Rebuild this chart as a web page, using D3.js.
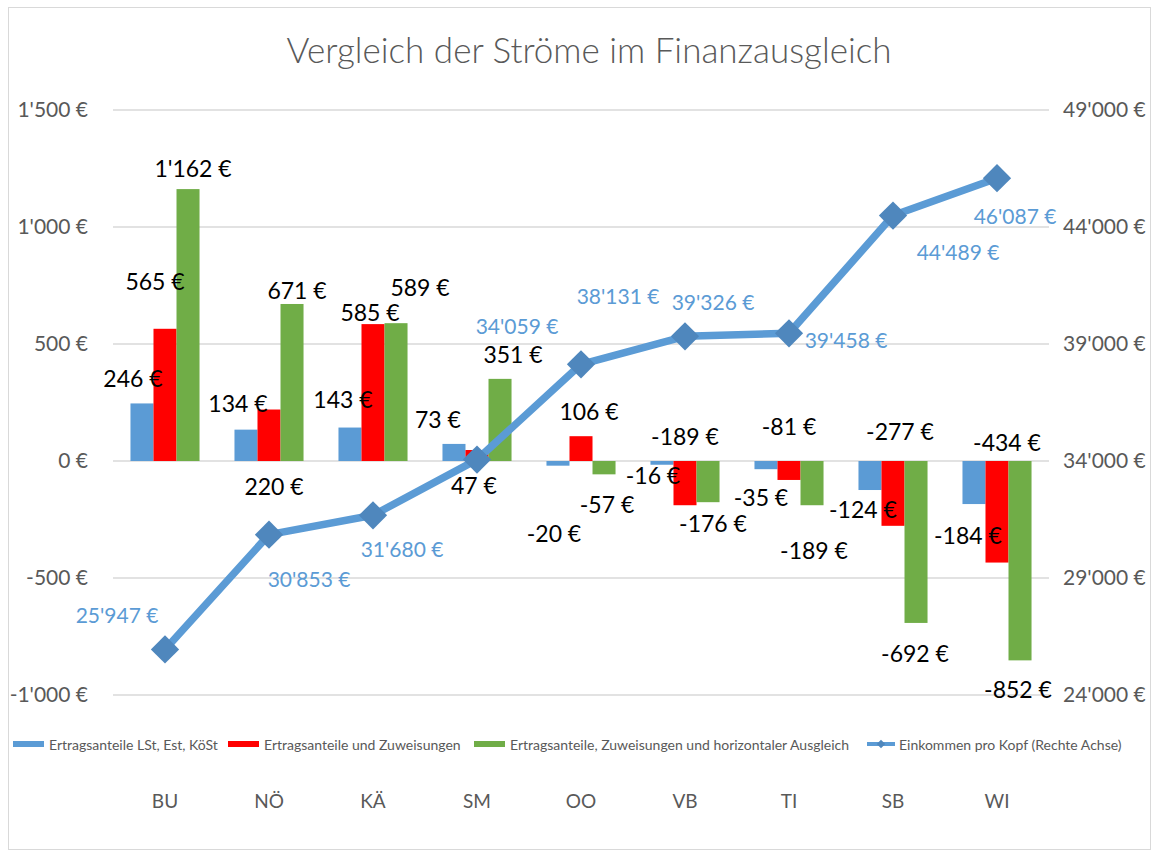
<!DOCTYPE html>
<html>
<head>
<meta charset="utf-8">
<script src="https://cdn.jsdelivr.net/npm/d3@7"></script>
<style>
  body { margin: 0; background: #fff; }
  text { font-family: Lato, "Open Sans", sans-serif; }
</style>
</head>
<body>
<div id="chart"></div>
<script>
// data
const categories = ["BU", "NÖ", "KÄ", "SM", "OO", "VB", "TI", "SB", "WI"];
const seriesNames = [
    "Ertragsanteile LSt, Est, KöSt",
    "Ertragsanteile und Zuweisungen",
    "Ertragsanteile, Zuweisungen und horizontaler Ausgleich"
];
const ertragsanteile = [246, 134, 143, 73, -20, -16, -35, -124, -184];
const zuweisungen = [565, 220, 585, 47, 106, -189, -81, -277, -434];
const horizontal = [1162, 671, 589, 351, -57, -176, -189, -692, -852];
const lineName = "Einkommen pro Kopf (Rechte Achse)";
const einkommen = [25947, 30853, 31680, 34059, 38131, 39326, 39458, 44489, 46087];
const leftTicks = [-1000, -500, 0, 500, 1000, 1500];
const rightTicks = [24000, 29000, 34000, 39000, 44000, 49000];

// label nudges (px, relative to the bar end / marker) - Excel labels were moved by hand
const barLabelNudge = [
    [[-9, -25], [-8, -27], [-7, -29], [-16, -25], [-4, 67], [-9, 10], [-5, 28], [-7, 19], [-6, 31]],
    [[-10, -48], [5, 76], [-3, -12], [-3, 35], [8, -25], [0, -69], [0, -54], [7, -95], [10, -121]],
    [[5, -21], [5, -14], [24, -36], [13, -25], [3, 30], [5, 21], [2, 45], [-1, 30], [-2, 29]]
];
const lineLabelNudge = [[-48, -35], [40, 44], [29, 33], [40, -134], [37, -69], [28, -35], [57, 6], [65, 36], [18, 37]];

const colours = ["#5b9bd5", "#ff0000", "#70ad47"];
const lineColour = "#5b9bd5";
const markerColour = "#4f87bd";

const width = 1159, height = 850;
const plot = {left: 113, right: 1049, top: 110, bottom: 695};

const svg = d3.select("#chart")
    .append("svg")
    .attr("width", width)
    .attr("height", height);

// chart frame
svg.append("rect")
    .attr("x", 8.5).attr("y", 7.5)
    .attr("width", 1142).attr("height", 842)
    .attr("fill", "#fff")
    .attr("stroke", "#d9d9d9");

// scales
const x = d3.scaleBand()
    .domain(categories)
    .range([plot.left, plot.right])
    .paddingInner(0.336)
    .paddingOuter(0.168);

const xSub = d3.scaleBand()
    .domain([0, 1, 2])
    .range([0, x.bandwidth()]);

const y = d3.scaleLinear()
    .domain([-1000, 1500])
    .range([plot.bottom, plot.top]);

const y2 = d3.scaleLinear()
    .domain([24000, 49000])
    .range([plot.bottom, plot.top]);

// swiss style thousands, plain hyphen for minus
const fmt = v => d3.format(",")(v).replace(/,/g, "'").replace("\u2212", "-") + " €";

// title
svg.append("text")
    .attr("x", 589)
    .attr("y", 63)
    .attr("text-anchor", "middle")
    .style("font-size", "35px")
    .style("font-weight", 300)
    .style("fill", "#595959")
    .text("Vergleich der Ströme im Finanzausgleich");

// gridlines
svg.append("g")
    .selectAll("line")
    .data(leftTicks)
    .join("line")
    .attr("x1", plot.left).attr("x2", plot.right)
    .attr("y1", d => y(d)).attr("y2", d => y(d))
    .attr("stroke", "#d9d9d9")
    .attr("stroke-width", 1.5);

// left axis
const yAxis = svg.append("g")
    .attr("transform", `translate(${plot.left - 22},0)`)
    .call(d3.axisLeft(y).tickValues(leftTicks).tickSize(0).tickFormat(fmt));
yAxis.select(".domain").remove();
yAxis.selectAll("text")
    .style("font-size", "21px")
    .style("fill", "#595959")
    .style("font-family", "Lato");

// right axis
const y2Axis = svg.append("g")
    .attr("transform", `translate(${plot.right + 11},0)`)
    .call(d3.axisRight(y2).tickValues(rightTicks).tickSize(0).tickFormat(fmt));
y2Axis.select(".domain").remove();
y2Axis.selectAll("text")
    .style("font-size", "21px")
    .style("fill", "#595959")
    .style("font-family", "Lato");

// bars
const allSeries = [ertragsanteile, zuweisungen, horizontal];
allSeries.forEach((values, s) => {
    const g = svg.append("g");
    g.selectAll("rect")
        .data(values)
        .join("rect")
        .attr("x", (d, i) => x(categories[i]) + xSub(s))
        .attr("width", xSub.bandwidth())
        .attr("y", d => y(Math.max(0, d)))
        .attr("height", d => Math.abs(y(d) - y(0)))
        .attr("fill", colours[s]);
});

// bar labels
allSeries.forEach((values, s) => {
    svg.append("g")
        .selectAll("text")
        .data(values)
        .join("text")
        .attr("x", (d, i) => x(categories[i]) + xSub(s) + xSub.bandwidth() / 2 + barLabelNudge[s][i][0])
        .attr("y", (d, i) => y(d) + barLabelNudge[s][i][1])
        .attr("text-anchor", "middle")
        .attr("dominant-baseline", "central")
        .style("font-size", "23px")
        .style("fill", "#000")
        .text(d => fmt(d));
});

// line
const cx = (d, i) => x(categories[i]) + x.bandwidth() / 2;
const line = d3.line()
    .x(cx)
    .y(d => y2(d));

svg.append("path")
    .datum(einkommen)
    .attr("d", line)
    .attr("fill", "none")
    .attr("stroke", lineColour)
    .attr("stroke-width", 7.5)
    .attr("stroke-linejoin", "round");

svg.append("g")
    .selectAll("path")
    .data(einkommen)
    .join("path")
    .attr("d", d3.symbol(d3.symbolSquare, 400))
    .attr("transform", (d, i) => `translate(${cx(d, i)},${y2(d)}) rotate(45)`)
    .attr("fill", markerColour);

// line labels
svg.append("g")
    .selectAll("text")
    .data(einkommen)
    .join("text")
    .attr("x", (d, i) => cx(d, i) + lineLabelNudge[i][0])
    .attr("y", (d, i) => y2(d) + lineLabelNudge[i][1])
    .attr("text-anchor", "middle")
    .attr("dominant-baseline", "central")
    .style("font-size", "21px")
    .style("fill", lineColour)
    .text(d => fmt(d));

// legend
const legendY = 744;
const legendItems = [
    {name: seriesNames[0], x: 13, type: "bar", colour: colours[0]},
    {name: seriesNames[1], x: 228, type: "bar", colour: colours[1]},
    {name: seriesNames[2], x: 474, type: "bar", colour: colours[2]},
    {name: lineName, x: 867, type: "line", colour: lineColour}
];
const legend = svg.append("g");
legendItems.forEach(item => {
    const g = legend.append("g").attr("transform", `translate(${item.x},${legendY})`);
    if (item.type === "bar") {
        g.append("rect")
            .attr("x", 0).attr("y", -3)
            .attr("width", 31).attr("height", 6)
            .attr("fill", item.colour);
    } else {
        g.append("line")
            .attr("x1", 0).attr("x2", 28)
            .attr("stroke", item.colour)
            .attr("stroke-width", 4);
        g.append("path")
            .attr("d", d3.symbol(d3.symbolSquare, 36))
            .attr("transform", "translate(14,0) rotate(45)")
            .attr("fill", markerColour);
    }
    g.append("text")
        .attr("x", item.type === "bar" ? 36 : 32)
        .attr("y", 0)
        .attr("dominant-baseline", "central")
        .style("font-size", "14px")
        .style("fill", "#595959")
        .text(item.name);
});

// category labels
svg.append("g")
    .selectAll("text")
    .data(categories)
    .join("text")
    .attr("x", d => x(d) + x.bandwidth() / 2)
    .attr("y", 800)
    .attr("text-anchor", "middle")
    .attr("dominant-baseline", "central")
    .style("font-size", "19px")
    .style("fill", "#595959")
    .text(d => d);
</script>
</body>
</html>
